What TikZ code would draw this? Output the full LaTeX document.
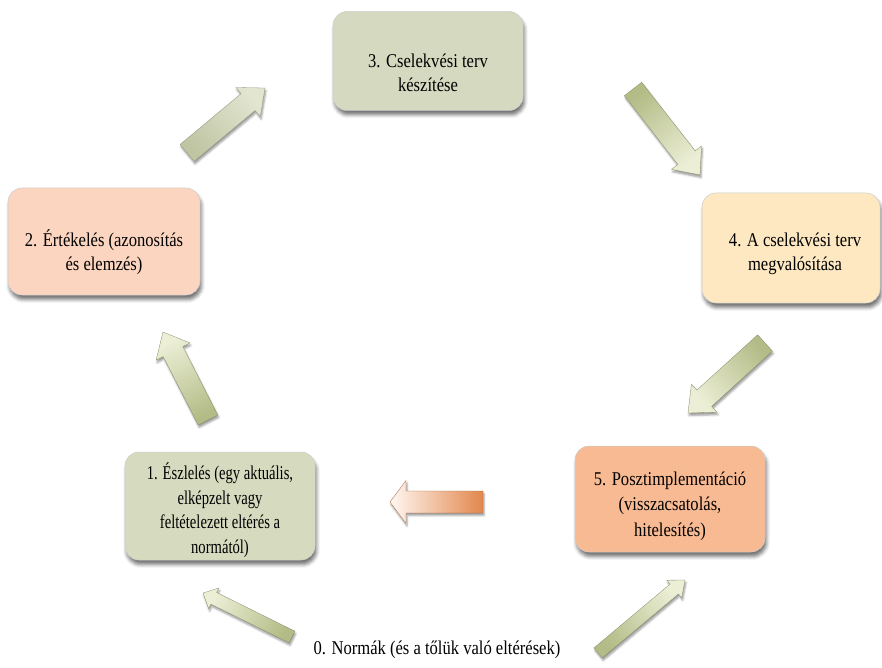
\documentclass[tikz,border=0pt]{standalone}
\usepackage{fontspec}
\setmainfont{Liberation Serif}[FakeStretch=0.85]
\newfontfamily\narrowf{Liberation Serif}[FakeStretch=0.75]
\usetikzlibrary{calc,shadows,shadows.blur}
\definecolor{cgreen}{HTML}{D4D9C0}
\definecolor{cgreenb}{HTML}{D6DBBF}
\definecolor{cpeach}{HTML}{FBD5C0}
\definecolor{cyell}{HTML}{FDE8C2}
\definecolor{corange}{HTML}{F8BA93}
\definecolor{agdark}{HTML}{B3BB86}
\definecolor{aglight}{HTML}{ECEFD6}
\definecolor{agray}{HTML}{BFC4A2}
\definecolor{agraylight}{HTML}{E2E5D0}
\definecolor{aodark}{HTML}{E2874C}
\definecolor{aolight}{HTML}{FFF7F2}
\newcommand\blockarrow[7]{%
  \pgfmathanglebetweenpoints{\pgfpointanchor{#1}{center}}{\pgfpointanchor{#2}{center}}%
  \pgfmathsetmacro\arang{\pgfmathresult-90}%
  \coordinate (#1-b) at ($(#2)!#5!(#1)$);
  \path[arrowshadow, draw=#6!75!black, line width=0.3pt, top color=#7, bottom color=#6, shading angle=\arang]
    ($(#1)!#3!90:(#2)$) -- ($(#1-b)!#3!90:(#2)$) -- ($(#1-b)!#4!90:(#2)$) -- (#2)
    -- ($(#1-b)!#4!-90:(#2)$) -- ($(#1-b)!#3!-90:(#2)$) -- ($(#1)!#3!-90:(#2)$) -- cycle;
}
\begin{document}
\begin{tikzpicture}[x=1pt,y=-1pt,
  box/.style={rounded corners=14pt, draw=black!20, line width=0.5pt,
    blur shadow={shadow xshift=1.5pt, shadow yshift=-4.5pt, shadow blur radius=3.5pt, shadow opacity=55}},
  lbl/.style={align=center, font=\fontsize{19.5}{24}\selectfont, text=black, inner sep=0pt},
  arrowshadow/.style={blur shadow={shadow xshift=1pt, shadow yshift=-2.5pt, shadow blur radius=2pt, shadow opacity=40}}]
\useasboundingbox (0,0) rectangle (882,668);
% boxes
\node[box, fill=cgreen, minimum width=190pt, minimum height=99pt] (b3) at (428,61) {};
\node[box, fill=cpeach, minimum width=192pt, minimum height=107pt] (b2) at (104,241.5) {};
\node[box, fill=cyell, minimum width=178pt, minimum height=110pt] (b4) at (791,248) {};
\node[box, fill=cgreenb, minimum width=190pt, minimum height=108pt] (b1) at (220,506) {};
\node[box, fill=corange, minimum width=190pt, minimum height=106pt] (b5) at (670,499) {};
% labels
\node[lbl] (t3) at (428,73) {3. Cselekvési terv\\készítése};
\node[lbl] (t2) at (104,252) {2. Értékelés (azonosítás\\és elemzés)};
\node[lbl] (t4) at (795,254) {4. A cselekvési terv\\megvalósítása};
\node[lbl, font=\narrowf\fontsize{19.5}{24.5}\selectfont] (t1) at (220,510) {1. Észlelés (egy aktuális,\\elképzelt vagy\\feltételezett eltérés a\\normától)};
\node[lbl, font=\fontsize{19.5}{25.5}\selectfont] (t5) at (670,506) {5. Posztimplementáció\\(visszacsatolás,\\hitelesítés)};
\node[lbl] (t0) at (437,650) {0. Normák (és a tőlük való eltérések)};
% arrow end points
\coordinate (a1t) at (187,153); \coordinate (a1h) at (265,88);
\coordinate (a2t) at (633,89);  \coordinate (a2h) at (700,175);
\coordinate (a3t) at (765,343); \coordinate (a3h) at (688,413);
\coordinate (a4t) at (483,502); \coordinate (a4h) at (390,502);
\coordinate (a5t) at (208,420); \coordinate (a5h) at (163,332);
\coordinate (a6t) at (292,637); \coordinate (a6h) at (203,593);
\coordinate (a7t) at (598,653); \coordinate (a7h) at (685,580);
% arrows
\blockarrow{a1t}{a1h}{11pt}{19pt}{22pt}{agray}{agraylight}
\blockarrow{a2t}{a2h}{11pt}{19pt}{22pt}{agdark}{aglight}
\blockarrow{a3t}{a3h}{11pt}{19pt}{22pt}{agdark}{aglight}
\blockarrow{a4t}{a4h}{11pt}{21.5pt}{16pt}{aodark}{aolight}
\blockarrow{a5t}{a5h}{11pt}{19pt}{22pt}{agdark}{aglight}
\blockarrow{a6t}{a6h}{6.5pt}{11.5pt}{12pt}{agdark}{aglight}
\blockarrow{a7t}{a7h}{6.5pt}{11.5pt}{14pt}{agdark}{aglight}
\end{tikzpicture}
\end{document}
